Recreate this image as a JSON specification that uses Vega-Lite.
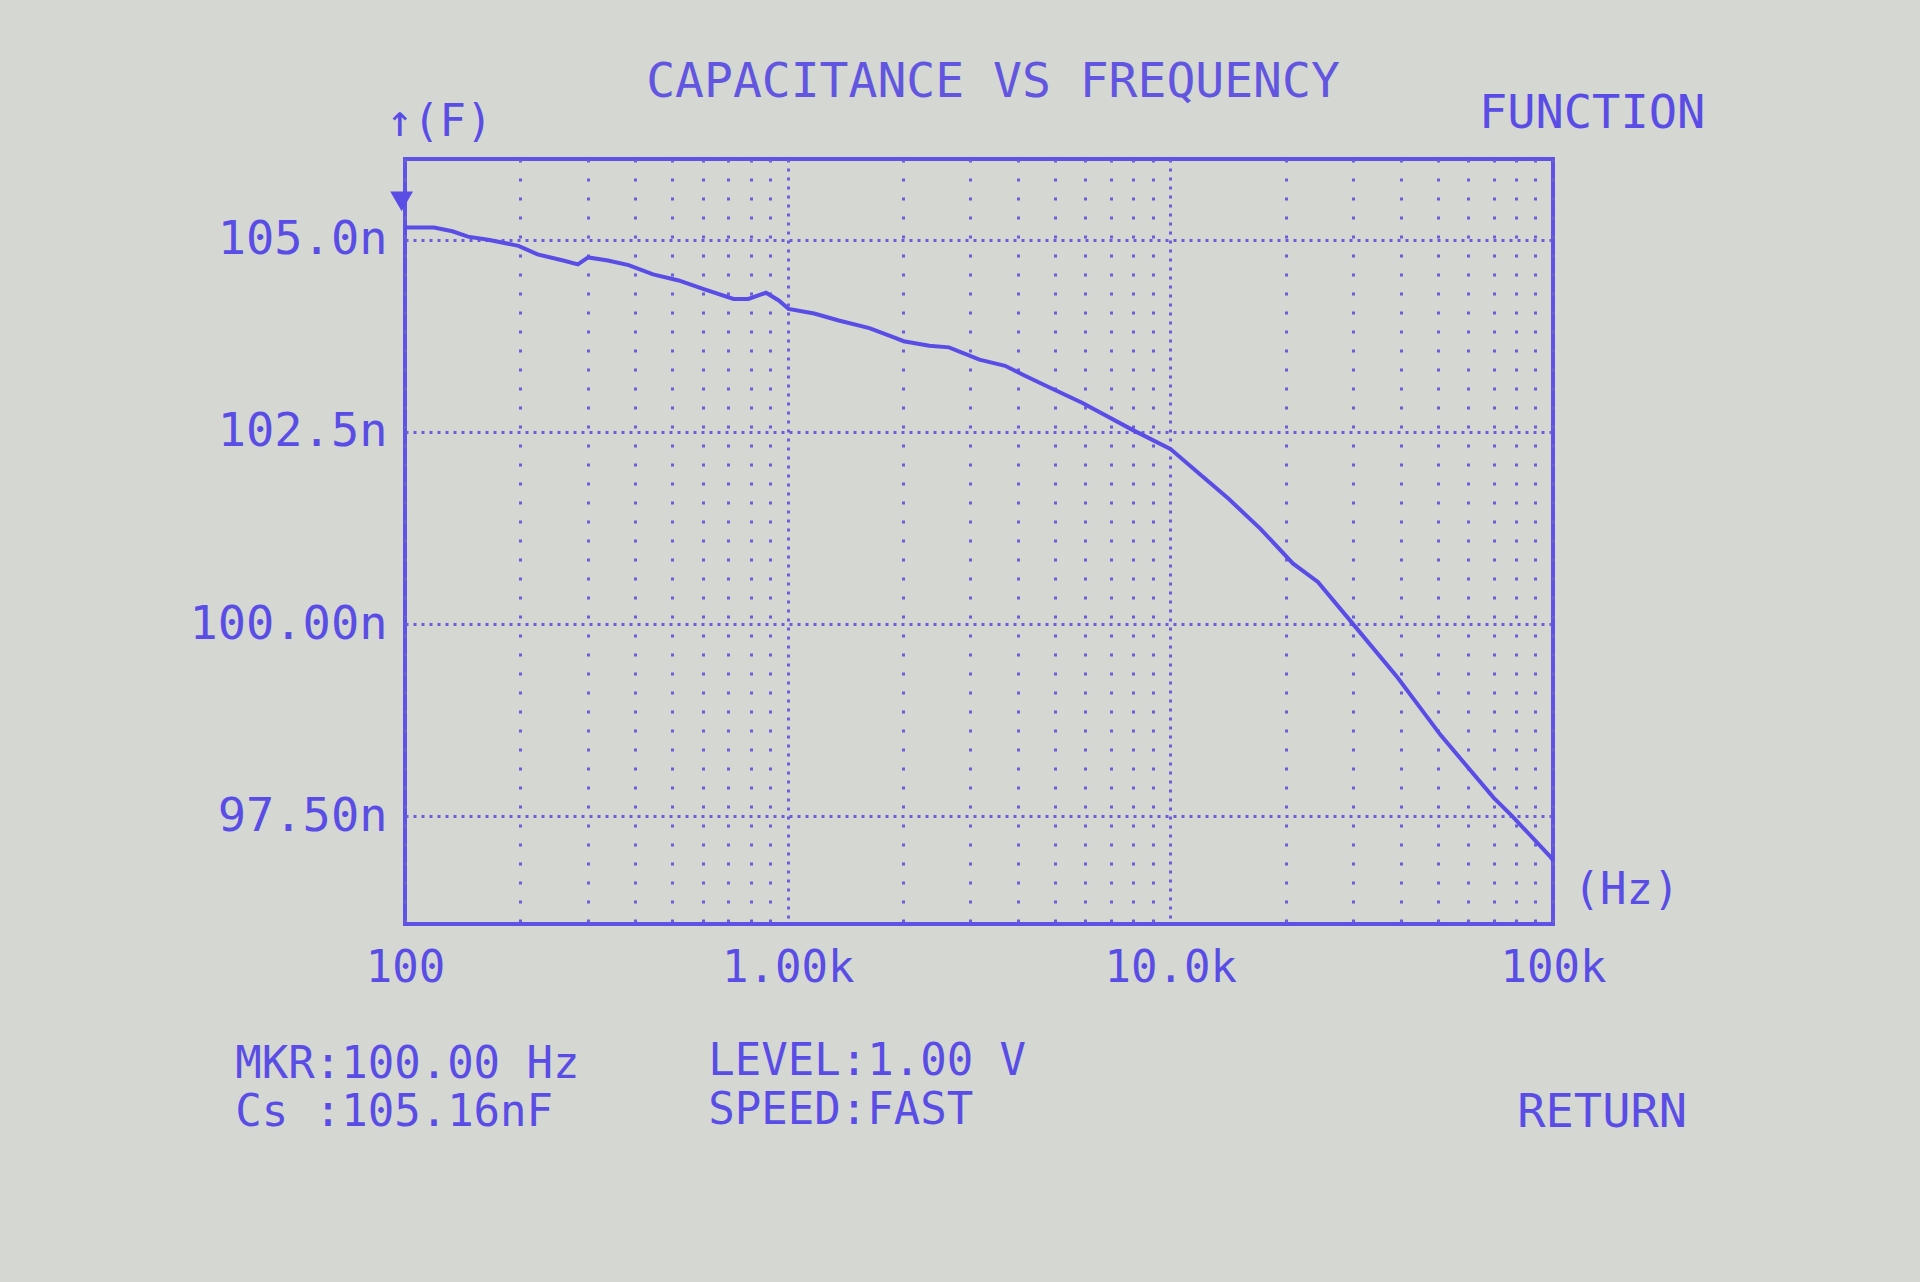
{
  "$schema": "https://vega.github.io/schema/vega-lite/v6.json",
  "width": 1148,
  "height": 765,
  "autosize": {"type": "none"},
  "padding": {"left": 405, "top": 159, "right": 367, "bottom": 358},
  "background": "#d4d7d2",
  "title": {
    "text": "CAPACITANCE VS FREQUENCY",
    "anchor": "middle",
    "font": "DejaVu Sans Mono",
    "fontSize": 48,
    "fontWeight": "normal",
    "color": "#6256e0",
    "offset": -17,
    "dx": 14
  },
  "config": {
    "font": "DejaVu Sans Mono",
    "view": {"stroke": "#5f52e6", "strokeWidth": 4}
  },
  "datasets": {
    "curve": [
      {"freq": 100, "cap": 105.16},
      {"freq": 119, "cap": 105.16},
      {"freq": 133, "cap": 105.11},
      {"freq": 146, "cap": 105.04},
      {"freq": 165, "cap": 105.0},
      {"freq": 198, "cap": 104.92},
      {"freq": 222, "cap": 104.81},
      {"freq": 259, "cap": 104.73},
      {"freq": 283, "cap": 104.68},
      {"freq": 301, "cap": 104.77},
      {"freq": 339, "cap": 104.73},
      {"freq": 384, "cap": 104.67},
      {"freq": 445, "cap": 104.55},
      {"freq": 519, "cap": 104.47},
      {"freq": 601, "cap": 104.36},
      {"freq": 722, "cap": 104.23},
      {"freq": 789, "cap": 104.23},
      {"freq": 878, "cap": 104.31},
      {"freq": 948, "cap": 104.21},
      {"freq": 1006, "cap": 104.1},
      {"freq": 1173, "cap": 104.04},
      {"freq": 1360, "cap": 103.95},
      {"freq": 1635, "cap": 103.85},
      {"freq": 1895, "cap": 103.73},
      {"freq": 2010, "cap": 103.68},
      {"freq": 2344, "cap": 103.62},
      {"freq": 2640, "cap": 103.6},
      {"freq": 3170, "cap": 103.44},
      {"freq": 3700, "cap": 103.36},
      {"freq": 4170, "cap": 103.23},
      {"freq": 4730, "cap": 103.1},
      {"freq": 5880, "cap": 102.88},
      {"freq": 7940, "cap": 102.53},
      {"freq": 10000, "cap": 102.28},
      {"freq": 11700, "cap": 101.99},
      {"freq": 14200, "cap": 101.63},
      {"freq": 17200, "cap": 101.24},
      {"freq": 20900, "cap": 100.79},
      {"freq": 24300, "cap": 100.55},
      {"freq": 29700, "cap": 100.03},
      {"freq": 39200, "cap": 99.31},
      {"freq": 50800, "cap": 98.56},
      {"freq": 70000, "cap": 97.74},
      {"freq": 78000, "cap": 97.51},
      {"freq": 98200, "cap": 96.98},
      {"freq": 100000, "cap": 96.93}
    ],
    "one": [{"n": 1}]
  },
  "layer": [
    {
      "data": {"name": "curve"},
      "mark": {"type": "line", "color": "#5a4de6", "strokeWidth": 4, "clip": false},
      "encoding": {
        "x": {
          "field": "freq",
          "type": "quantitative",
          "scale": {"type": "log", "domain": [100, 100000], "nice": false},
          "axis": {
            "values": [100, 200, 300, 400, 500, 600, 700, 800, 900, 1000, 2000, 3000, 4000, 5000, 6000, 7000, 8000, 9000, 10000, 20000, 30000, 40000, 50000, 60000, 70000, 80000, 90000, 100000],
            "labelExpr": "datum.value == 100 ? '100' : datum.value == 1000 ? '1.00k' : datum.value == 10000 ? '10.0k' : datum.value == 100000 ? '100k' : ''",
            "labelOverlap": false,
            "labelFlush": false,
            "labelBound": false,
            "labelFontSize": 44,
            "labelColor": "#5a4de6",
            "labelPadding": 22,
            "ticks": false,
            "domain": false,
            "grid": true,
            "gridColor": "#6a5fd8",
            "gridWidth": 3,
            "gridDash": {"condition": {"test": "datum.value == 1000 || datum.value == 10000", "value": [3, 6]}, "value": [3, 16]},
            "title": "(Hz)",
            "titleFontSize": 44,
            "titleFontWeight": "normal",
            "titleColor": "#5a4de6",
            "titleAngle": 0,
            "titleAlign": "left",
            "titleBaseline": "middle",
            "titleX": 1168,
            "titleY": -34
          }
        },
        "y": {
          "field": "cap",
          "type": "quantitative",
          "scale": {"domain": [96.1, 106.05], "zero": false, "nice": false},
          "axis": {
            "values": [97.5, 100, 102.5, 105],
            "labelExpr": "datum.value == 105 ? '105.0n' : datum.value == 102.5 ? '102.5n' : datum.value == 100 ? '100.00n' : '97.50n'",
            "labelFontSize": 47,
            "labelLimit": 500,
            "labelColor": "#5a4de6",
            "labelPadding": 18,
            "ticks": false,
            "domain": false,
            "grid": true,
            "gridColor": "#6a5fd8",
            "gridWidth": 3,
            "gridDash": [3, 5],
            "title": "↑(F)",
            "titleFontSize": 44,
            "titleFontWeight": "normal",
            "titleColor": "#5a4de6",
            "titleAngle": 0,
            "titleAlign": "left",
            "titleBaseline": "middle",
            "titleX": -19,
            "titleY": -37
          }
        }
      }
    },
    {
      "data": {"name": "one"},
      "mark": {"type": "point", "shape": "triangle-down", "filled": true, "size": 520, "color": "#5a4de6", "opacity": 1, "clip": false},
      "encoding": {"x": {"datum": 98, "type": "quantitative"}, "y": {"datum": 105.5, "type": "quantitative"}}
    },
    {
      "data": {"name": "one"},
      "mark": {"type": "text", "text": "FUNCTION", "align": "right", "baseline": "middle", "fontSize": 47, "color": "#5a4de6", "clip": false},
      "encoding": {"x": {"datum": 250000, "type": "quantitative"}, "y": {"datum": 106.64, "type": "quantitative"}}
    },
    {
      "data": {"name": "one"},
      "mark": {"type": "text", "text": "MKR:100.00 Hz", "align": "left", "baseline": "middle", "fontSize": 44, "color": "#5a4de6", "clip": false},
      "encoding": {"x": {"datum": 36, "type": "quantitative"}, "y": {"datum": 94.27, "type": "quantitative"}}
    },
    {
      "data": {"name": "one"},
      "mark": {"type": "text", "text": "Cs :105.16nF", "align": "left", "baseline": "middle", "fontSize": 44, "color": "#5a4de6", "clip": false},
      "encoding": {"x": {"datum": 36, "type": "quantitative"}, "y": {"datum": 93.64, "type": "quantitative"}}
    },
    {
      "data": {"name": "one"},
      "mark": {"type": "text", "text": "LEVEL:1.00 V", "align": "left", "baseline": "middle", "fontSize": 44, "color": "#5a4de6", "clip": false},
      "encoding": {"x": {"datum": 620, "type": "quantitative"}, "y": {"datum": 94.3, "type": "quantitative"}}
    },
    {
      "data": {"name": "one"},
      "mark": {"type": "text", "text": "SPEED:FAST", "align": "left", "baseline": "middle", "fontSize": 44, "color": "#5a4de6", "clip": false},
      "encoding": {"x": {"datum": 620, "type": "quantitative"}, "y": {"datum": 93.67, "type": "quantitative"}}
    },
    {
      "data": {"name": "one"},
      "mark": {"type": "text", "text": "RETURN", "align": "right", "baseline": "middle", "fontSize": 47, "color": "#5a4de6", "clip": false},
      "encoding": {"x": {"datum": 224000, "type": "quantitative"}, "y": {"datum": 93.64, "type": "quantitative"}}
    }
  ]
}
